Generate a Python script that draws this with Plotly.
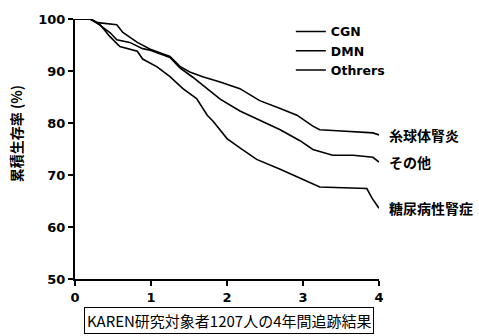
import plotly.graph_objects as go

# Kaplan-Meier style survival curves (years vs cumulative survival %)
cgn_t = [0, 0.2, 0.3, 0.55, 0.63, 0.82, 0.99, 1.25, 1.38, 1.51, 1.68, 1.91, 2.17, 2.43, 2.70, 2.92, 3.13, 3.22, 3.45, 3.92, 4.0]
cgn_v = [100, 100, 99.3, 98.9, 97.4, 95.5, 94.2, 92.8, 90.9, 89.8, 88.9, 87.9, 86.6, 84.3, 82.8, 81.5, 79.4, 78.7, 78.5, 78.1, 77.7]

dmn_t = [0, 0.2, 0.33, 0.46, 0.59, 0.82, 0.89, 1.08, 1.25, 1.42, 1.60, 1.74, 1.82, 2.0, 2.17, 2.39, 2.70, 2.92, 3.22, 3.84, 3.91, 4.0]
dmn_v = [100, 100, 98.9, 96.6, 94.7, 93.8, 92.3, 90.8, 88.9, 86.6, 84.7, 81.5, 80.3, 77.0, 75.2, 73.0, 71.1, 69.6, 67.7, 67.4, 65.5, 63.6]

oth_t = [0, 0.2, 0.29, 0.46, 0.55, 0.72, 0.89, 0.99, 1.25, 1.38, 1.55, 1.70, 1.91, 2.17, 2.43, 2.70, 2.96, 3.13, 3.39, 3.66, 3.92, 4.0]
oth_v = [100, 100, 99.2, 97.4, 96.0, 95.5, 94.3, 94.0, 92.6, 90.6, 88.8, 87.0, 84.6, 82.3, 80.6, 78.7, 76.6, 74.9, 73.8, 73.8, 73.4, 72.5]

series_names = ["CGN", "DMN", "Othrers"]
end_labels = ["糸球体腎炎", "糖尿病性腎症", "その他"]
x_ticks = [0, 1, 2, 3, 4]
y_ticks = [50, 60, 70, 80, 90, 100]
y_title = "累積生存率 (%)"
caption = "KAREN研究対象者1207人の4年間追跡結果"

LAT = "DejaVu Sans"
CJK = "Noto Sans CJK JP"

fig = go.Figure()
for name, t, v in zip(series_names, [cgn_t, dmn_t, oth_t], [cgn_v, dmn_v, oth_v]):
    fig.add_trace(go.Scatter(x=t, y=v, mode="lines", name=name,
                             line=dict(color="black", width=1.6)))

for lab, t, v in zip(end_labels, [cgn_t, dmn_t, oth_t], [cgn_v, dmn_v, oth_v]):
    fig.add_annotation(x=t[-1], y=v[-1], xref="x", yref="y", text=lab,
                       showarrow=False, xanchor="left", yanchor="middle", xshift=8,
                       font=dict(family=CJK, size=14, color="black", weight="bold"))

fig.add_annotation(x=-0.2, y=0.5, xref="paper", yref="paper", text=y_title,
                   textangle=-90, showarrow=False, xanchor="center", yanchor="middle",
                   xshift=2, yshift=15,
                   font=dict(family=CJK, size=14, color="black", weight="bold"))

fig.add_annotation(x=0.508, y=0, xref="paper", yref="paper", text=caption,
                   showarrow=False, xanchor="center", yanchor="top", yshift=-28,
                   bordercolor="black", borderwidth=1, borderpad=2,
                   font=dict(family=CJK, size=15, color="black"))

axis_common = dict(showline=True, linewidth=2, linecolor="black", ticks="outside",
                   ticklen=5, tickwidth=2, tickcolor="black", showgrid=False,
                   zeroline=False, tickfont=dict(family=LAT, size=13, color="black", weight="bold"))

fig.update_layout(
    width=479, height=336,
    margin=dict(l=75, r=100, t=14, b=57),
    paper_bgcolor="white", plot_bgcolor="white",
    xaxis=dict(range=[0, 4], tickvals=x_ticks, **axis_common),
    yaxis=dict(range=[50, 100], tickvals=y_ticks, **axis_common),
    legend=dict(x=0.71, y=1.008, xanchor="left", yanchor="top",
                bgcolor="rgba(0,0,0,0)", tracegroupgap=0, itemwidth=30,
                font=dict(family=LAT, size=12.5, color="black", weight="bold")),
    showlegend=True,
)

fig.write_html("out.html")
